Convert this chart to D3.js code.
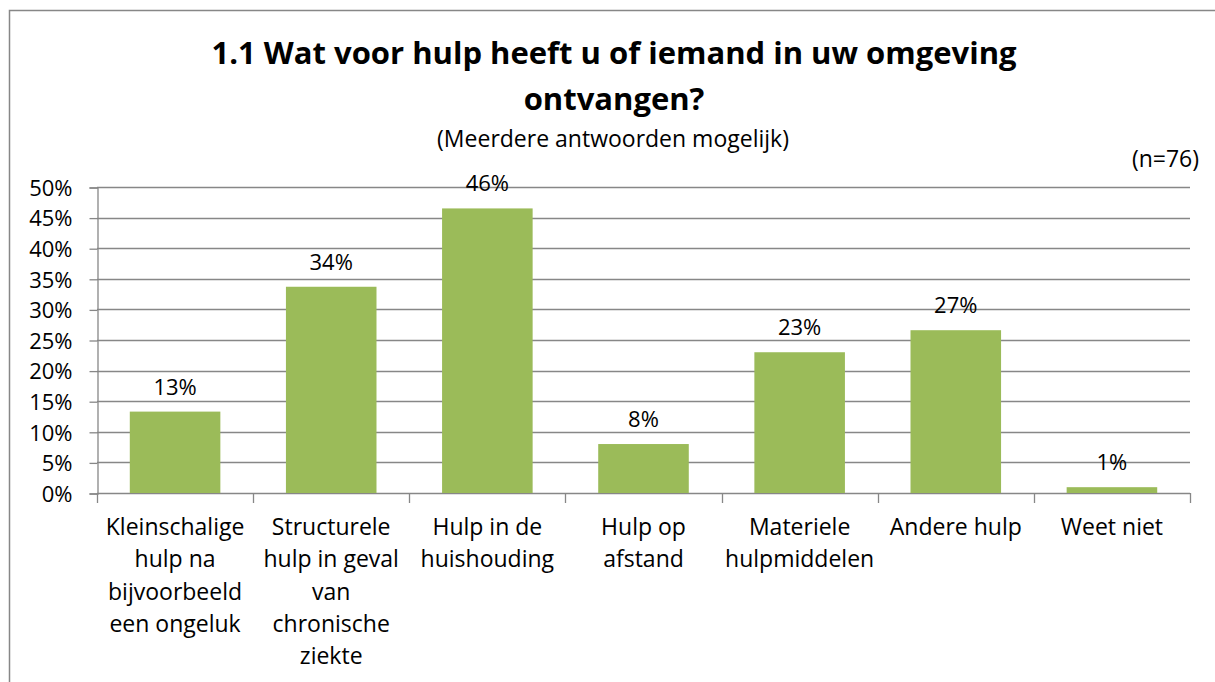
<!DOCTYPE html>
<html>
<head>
<meta charset="utf-8">
<script src="https://cdn.jsdelivr.net/npm/d3@7"></script>
<style>
  body { margin: 0; background: #fff; }
  svg text { font-family: "Open Sans", sans-serif; fill: #000; }
</style>
</head>
<body>
<div id="chart"></div>
<script>
// categorieen (regelafbreking zoals in het origineel)
var categories = [
    "Kleinschalige\nhulp na\nbijvoorbeeld\neen ongeluk",
    "Structurele\nhulp in geval\nvan\nchronische\nziekte",
    "Hulp in de\nhuishouding",
    "Hulp op\nafstand",
    "Materiele\nhulpmiddelen",
    "Andere hulp",
    "Weet niet"
];
var values = [13.3, 33.7, 46.5, 8.0, 23.0, 26.6, 0.95];
var valueLabels = ["13%", "34%", "46%", "8%", "23%", "27%", "1%"];
var yTicks = [0, 5, 10, 15, 20, 25, 30, 35, 40, 45, 50];
var titleLines = ["1.1 Wat voor hulp heeft u of iemand in uw omgeving", "ontvangen?"];
var subtitle = "(Meerdere antwoorden mogelijk)";
var nLabel = "(n=76)";

function drawChart() {
    const W = 1215, H = 682;
    const LEFT = 97, RIGHT = 1190, TOP = 187, BOTTOM = 493;
    const GRID = "#878787";

    const svg = d3.select("#chart")
        .append("svg")
        .attr("width", W)
        .attr("height", H);

    svg.append("rect").attr("width", W).attr("height", H).attr("fill", "#fff");

    // kader rond de grafiek
    svg.append("rect")
        .attr("x", 9.5).attr("y", 10.5)
        .attr("width", W + 20).attr("height", H + 20)
        .attr("fill", "none").attr("stroke", GRID).attr("stroke-width", 1.5);

    const x = d3.scaleBand()
        .domain(categories)
        .range([LEFT, RIGHT])
        .paddingInner(0.42)
        .paddingOuter(0.21);

    const y = d3.scaleLinear()
        .domain([0, 50])
        .range([BOTTOM, TOP]);

    // rasterlijnen
    svg.append("g")
        .selectAll("line")
        .data(yTicks)
        .enter()
        .append("line")
        .attr("x1", LEFT).attr("x2", RIGHT)
        .attr("y1", d => Math.round(y(d)) + 0.5)
        .attr("y2", d => Math.round(y(d)) + 0.5)
        .attr("stroke", GRID).attr("stroke-width", 1.3);

    // y-as
    const yAxis = d3.axisLeft(y)
        .tickValues(yTicks)
        .tickSize(8)
        .tickPadding(17)
        .tickFormat(d => d + "%");
    const gy = svg.append("g")
        .attr("transform", `translate(${LEFT + 0.5},0.5)`)
        .call(yAxis);
    gy.select(".domain").attr("stroke", GRID).attr("stroke-width", 1.3);
    gy.selectAll(".tick line").attr("stroke", GRID).attr("stroke-width", 1.3);
    gy.selectAll(".tick text")
        .attr("font-size", 22)
        .attr("font-family", "Open Sans, sans-serif")
        .attr("fill", "#000")
        .attr("dy", "0.35em");

    // x-as streepjes op de categoriegrenzen
    const step = x.step();
    const bounds = d3.range(categories.length + 1).map(i => LEFT + i * step);
    svg.append("g")
        .selectAll("line")
        .data(bounds)
        .enter()
        .append("line")
        .attr("x1", d => Math.round(d) + 0.5).attr("x2", d => Math.round(d) + 0.5)
        .attr("y1", BOTTOM).attr("y2", BOTTOM + 10)
        .attr("stroke", GRID).attr("stroke-width", 1.3);

    // staven
    const data = categories.map((c, i) => ({ cat: c, val: values[i], lab: valueLabels[i] }));
    svg.append("g")
        .selectAll("rect")
        .data(data)
        .enter()
        .append("rect")
        .attr("x", d => x(d.cat))
        .attr("y", d => y(d.val))
        .attr("width", x.bandwidth())
        .attr("height", d => y(0) - y(d.val))
        .attr("fill", "#9BBB59");

    // waardelabels
    svg.append("g")
        .selectAll("text")
        .data(data)
        .enter()
        .append("text")
        .attr("x", d => x(d.cat) + x.bandwidth() / 2)
        .attr("y", d => y(d.val) - 17)
        .attr("text-anchor", "middle")
        .attr("font-size", 22)
        .text(d => d.lab);

    // categorielabels
    const catLabels = svg.append("g")
        .selectAll("text")
        .data(data)
        .enter()
        .append("text")
        .attr("text-anchor", "middle")
        .attr("font-size", 23);
    catLabels.each(function (d) {
        const t = d3.select(this);
        d.cat.split("\n").forEach((line, k) => {
            t.append("tspan")
                .attr("x", x(d.cat) + x.bandwidth() / 2)
                .attr("y", 535 + k * 32.3)
                .text(line);
        });
    });

    // titel
    titleLines.forEach((line, k) => {
        svg.append("text")
            .attr("x", 614)
            .attr("y", 64 + k * 46)
            .attr("text-anchor", "middle")
            .attr("font-size", 31)
            .attr("font-weight", "bold")
            .text(line);
    });

    svg.append("text")
        .attr("x", 613)
        .attr("y", 147)
        .attr("text-anchor", "middle")
        .attr("font-size", 23)
        .text(subtitle);

    svg.append("text")
        .attr("x", 1199)
        .attr("y", 167)
        .attr("text-anchor", "end")
        .attr("font-size", 23)
        .text(nLabel);
}

drawChart();
</script>
</body>
</html>
